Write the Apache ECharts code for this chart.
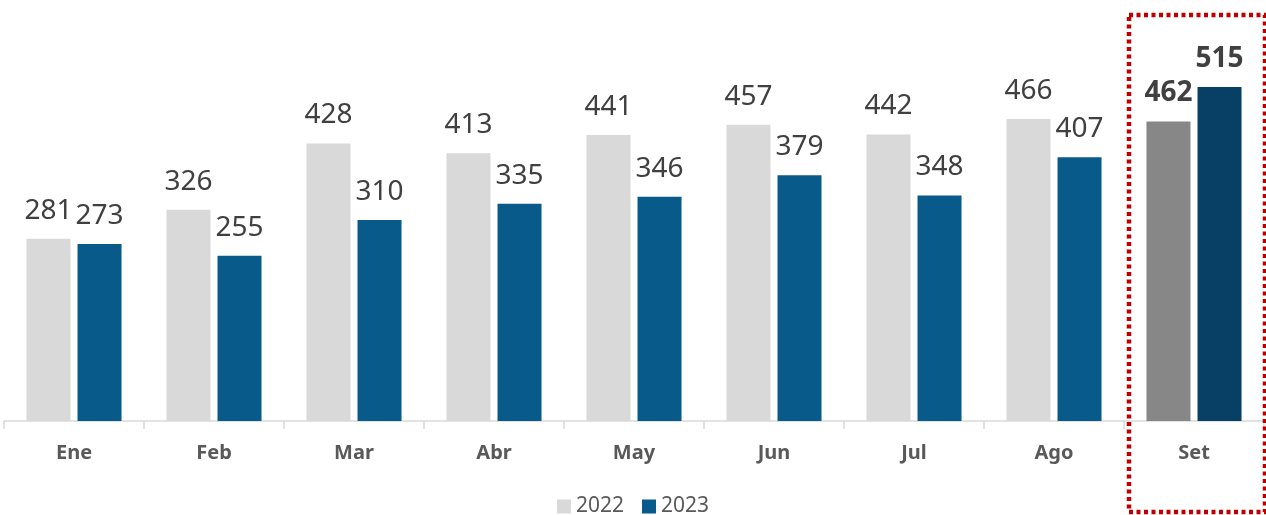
<!DOCTYPE html>
<html>
<head>
<meta charset="utf-8">
<script src="https://cdn.jsdelivr.net/npm/echarts@6/dist/echarts.min.js"></script>
<style>
  html, body { margin: 0; padding: 0; background: #fff; }
  #chart { width: 1266px; height: 515px; }
</style>
</head>
<body>
<div id="chart"></div>
<script>
var months = ['Ene', 'Feb', 'Mar', 'Abr', 'May', 'Jun', 'Jul', 'Ago', 'Set'];
var values2022 = [281, 326, 428, 413, 441, 457, 442, 466, 462];
var values2023 = [273, 255, 310, 335, 346, 379, 348, 407, 515];

var highlight = 'Set';
var labelFont = 'Noto Sans';

function buildData(values, color, hiColor) {
  return values.map(function (v, i) {
    if (months[i] === highlight) {
      return {
        value: v,
        itemStyle: { color: hiColor },
        label: { fontWeight: 'bold' }
      };
    }
    return { value: v, itemStyle: { color: color } };
  });
}

var myChart = echarts.init(document.getElementById('chart'));

myChart.setOption({
  animation: false,
  grid: { left: 4, right: 2, top: 32, bottom: 94 },
  legend: {
    bottom: -7,
    left: 'center',
    itemWidth: 14,
    itemHeight: 14,
    itemGap: 18,
    icon: 'rect',
    textStyle: { color: '#595959', fontSize: 21, fontFamily: labelFont },
    data: [
      { name: '2022', itemStyle: { color: '#d9d9d9' } },
      { name: '2023', itemStyle: { color: '#075a8a' } }
    ]
  },
  xAxis: {
    type: 'category',
    data: months,
    axisLine: { lineStyle: { color: '#d9d9d9', width: 1.5 } },
    axisTick: { show: true, length: 8, lineStyle: { color: '#d9d9d9', width: 1.5 } },
    axisLabel: {
      color: '#595959',
      fontSize: 20,
      fontWeight: 'bold',
      fontFamily: labelFont,
      margin: 22
    }
  },
  yAxis: {
    type: 'value',
    min: 0,
    max: 600,
    show: false,
    splitLine: { show: false }
  },
  series: [{
    name: '2022',
    type: 'bar',
    barWidth: 44,
    barGap: '16%',
    label: {
      show: true,
      position: 'top',
      distance: 14,
      color: '#404040',
      fontSize: 28,
      fontFamily: labelFont
    },
    data: buildData(values2022, '#d9d9d9', '#878787')
  }, {
    name: '2023',
    type: 'bar',
    barWidth: 44,
    barGap: '16%',
    label: {
      show: true,
      position: 'top',
      distance: 14,
      color: '#404040',
      fontSize: 28,
      fontFamily: labelFont
    },
    data: buildData(values2023, '#075a8a', '#074064')
  }]
});

// dotted red frame around the highlighted month
var center = myChart.convertToPixel({ xAxisIndex: 0 }, highlight);
var band = 140;
myChart.setOption({
  graphic: [{
    type: 'rect',
    shape: { x: center - band / 2 + 5, y: 15, width: band - 4, height: 497 },
    style: {
      fill: 'none',
      stroke: '#c00000',
      lineWidth: 4.5,
      lineDash: [4, 3.5]
    },
    z: 100
  }]
});
</script>
</body>
</html>
